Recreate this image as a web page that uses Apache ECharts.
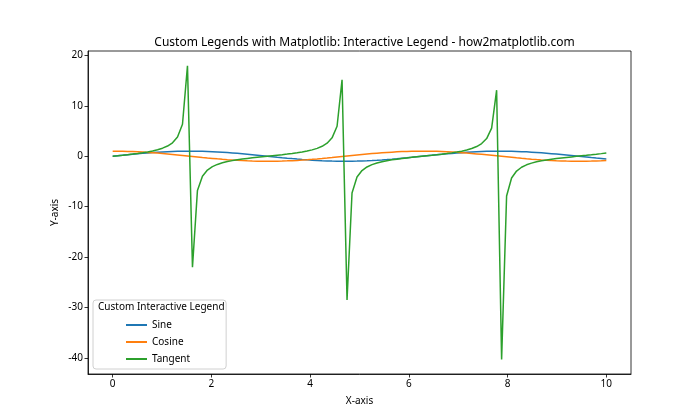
<!DOCTYPE html>
<html>
<head>
<meta charset="utf-8">
<script src="https://cdn.jsdelivr.net/npm/echarts@6/dist/echarts.min.js"></script>
<style>html,body{margin:0;padding:0;background:#fff;}#c{width:700px;height:420px;}</style>
</head>
<body>
<div id="c"></div>
<script>
const xValues = [0,0.1010,0.2020,0.3030,0.4040,0.5051,0.6061,0.7071,0.8081,0.9091,1.0101,1.1111,1.2121,1.3131,1.4141,1.5152,1.6162,1.7172,1.8182,1.9192,2.0202,2.1212,2.2222,2.3232,2.4242,2.5253,2.6263,2.7273,2.8283,2.9293,3.0303,3.1313,3.2323,3.3333,3.4343,3.5354,3.6364,3.7374,3.8384,3.9394,4.0404,4.1414,4.2424,4.3434,4.4444,4.5455,4.6465,4.7475,4.8485,4.9495,5.0505,5.1515,5.2525,5.3535,5.4545,5.5556,5.6566,5.7576,5.8586,5.9596,6.0606,6.1616,6.2626,6.3636,6.4646,6.5657,6.6667,6.7677,6.8687,6.9697,7.0707,7.1717,7.2727,7.3737,7.4747,7.5758,7.6768,7.7778,7.8788,7.9798,8.0808,8.1818,8.2828,8.3838,8.4848,8.5859,8.6869,8.7879,8.8889,8.9899,9.0909,9.1919,9.2929,9.3939,9.4949,9.5960,9.6970,9.7980,9.8990,10.0];
const sineValues = [0,0.1008,0.2007,0.2984,0.3931,0.4839,0.5696,0.6496,0.7230,0.7889,0.8469,0.8962,0.9364,0.9670,0.9878,0.9985,0.9990,0.9893,0.9696,0.9399,0.9007,0.8523,0.7952,0.7300,0.6574,0.5781,0.4928,0.4026,0.3082,0.2107,0.1111,0.0103,-0.0906,-0.1906,-0.2886,-0.3837,-0.4748,-0.5612,-0.6418,-0.7158,-0.7826,-0.8414,-0.8916,-0.9327,-0.9643,-0.9861,-0.9978,-0.9994,-0.9908,-0.9720,-0.9434,-0.9051,-0.8576,-0.8014,-0.7370,-0.6651,-0.5864,-0.5017,-0.4120,-0.3180,-0.2207,-0.1213,-0.0206,0.0804,0.1805,0.2787,0.3742,0.4658,0.5526,0.6339,0.7086,0.7762,0.8358,0.8869,0.9290,0.9616,0.9843,0.9971,0.9997,0.9921,0.9744,0.9467,0.9094,0.8629,0.8075,0.7439,0.6727,0.5947,0.5106,0.4213,0.3277,0.2308,0.1315,0.0308,-0.0701,-0.1704,-0.2688,-0.3646,-0.4566,-0.5440];
const cosineValues = [1,0.9949,0.9797,0.9544,0.9195,0.8752,0.8219,0.7603,0.6909,0.6145,0.5318,0.4437,0.3510,0.2548,0.1560,0.0556,-0.0453,-0.1459,-0.2449,-0.3414,-0.4344,-0.5230,-0.6063,-0.6834,-0.7536,-0.8160,-0.8701,-0.9154,-0.9513,-0.9776,-0.9938,-0.9999,-0.9959,-0.9817,-0.9575,-0.9235,-0.8801,-0.8277,-0.7669,-0.6983,-0.6225,-0.5405,-0.4529,-0.3607,-0.2648,-0.1662,-0.0659,0.0351,0.1357,0.2349,0.3317,0.4252,0.5143,0.5981,0.6759,0.7468,0.8100,0.8650,0.9112,0.9481,0.9753,0.9926,0.9998,0.9968,0.9836,0.9604,0.9274,0.8849,0.8334,0.7735,0.7056,0.6306,0.5491,0.4620,0.3702,0.2747,0.1763,0.0761,-0.0248,-0.1255,-0.2249,-0.3220,-0.4158,-0.5054,-0.5899,-0.6683,-0.7399,-0.8039,-0.8598,-0.9069,-0.9448,-0.9730,-0.9913,-0.9995,-0.9975,-0.9854,-0.9632,-0.9312,-0.8897,-0.8391];
const tangentValues = [0,0.1014,0.2048,0.3127,0.4276,0.5529,0.6931,0.8544,1.0464,1.2840,1.5926,2.0200,2.6674,3.7948,6.3309,17.952,-22.029,-6.7831,-3.9595,-2.7532,-2.0733,-1.6295,-1.3116,-1.0682,-0.8724,-0.7084,-0.5664,-0.4398,-0.3240,-0.2155,-0.1118,-0.0103,0.0910,0.1941,0.3014,0.4155,0.5395,0.6780,0.8368,1.0251,1.2571,1.5568,1.9688,2.5862,3.6424,5.9346,15.146,-28.494,-7.3026,-4.1382,-2.8440,-2.1289,-1.6677,-1.3399,-1.0905,-0.8906,-0.7239,-0.5800,-0.4521,-0.3354,-0.2263,-0.1222,-0.0206,0.0806,0.1835,0.2902,0.4035,0.5263,0.6631,0.8195,1.0043,1.2309,1.5222,1.9197,2.5093,3.5010,5.5837,13.098,-40.302,-7.906,-4.3327,-2.9402,-2.1871,-1.7073,-1.3690,-1.1132,-0.9093,-0.7397,-0.5938,-0.4645,-0.3469,-0.2372,-0.1326,-0.0308,0.0703,0.1729,0.2791,0.3916,0.5133,0.6484];
const xTicks = [0,2,4,6,8,10];
const yTicks = [-40,-30,-20,-10,0,10,20];
const seriesNames = ['Sine','Cosine','Tangent'];
const colors = ['#1f77b4','#ff7f0e','#2ca02c'];

const FONT = 'Noto Sans';
function pairs(ys){ return xValues.map((x,i)=>[x, ys[i]]); }
const allSeries = [sineValues, cosineValues, tangentValues];

const chart = echarts.init(document.getElementById('c'), null, {renderer:'canvas'});
chart.setOption({
  animation:false,
  backgroundColor:'#fff',
  color: colors,
  title:[{
    text:'Custom Legends with Matplotlib: Interactive Legend - how2matplotlib.com',
    left:359.5, top:32, textAlign:'center',
    textStyle:{fontFamily:FONT,fontSize:12,fontWeight:'normal',color:'#000'}
  },{
    text:'Custom Interactive Legend',
    left:93, top:297,
    textStyle:{fontFamily:FONT,fontSize:10,fontWeight:'normal',color:'#000'}
  }],
  grid:{left:88, right:69, top:51, bottom:46, show:true, borderColor:'#000', borderWidth:0.8, backgroundColor:'transparent'},
  legend:{
    data: seriesNames,
    orient:'vertical', left:93, top:300,
    padding:[19,36,4,33],
    itemGap:5, itemWidth:21, itemHeight:2, icon:'rect',
    backgroundColor:'rgba(255,255,255,0.8)', borderColor:'#d0d0d0', borderWidth:1, borderRadius:3,
    textStyle:{fontFamily:FONT,fontSize:10,color:'#000',lineHeight:12},
    selectedMode:true
  },
  xAxis:{
    type:'value', min:-0.5, max:10.5,
    name:'X-axis', nameLocation:'middle', nameGap:22,
    nameTextStyle:{fontFamily:FONT,fontSize:10,color:'#000'},
    axisLine:{show:true,onZero:false,lineStyle:{color:'#000',width:0.8}},
    axisTick:{show:true,length:3.5,customValues:xTicks,lineStyle:{color:'#000',width:0.8}},
    axisLabel:{customValues:xTicks,fontFamily:FONT,fontSize:10,color:'#000',margin:5},
    splitLine:{show:false}
  },
  yAxis:{
    type:'value', min:-43.2, max:20.87,
    name:'Y-axis', nameLocation:'middle', nameGap:28, nameMoveOverlap:false,
    nameTextStyle:{fontFamily:FONT,fontSize:10,color:'#000'},
    axisLine:{show:true,onZero:false,lineStyle:{color:'#000',width:0.8}},
    axisTick:{show:true,length:3.5,customValues:yTicks,lineStyle:{color:'#000',width:0.8}},
    axisLabel:{customValues:yTicks,fontFamily:FONT,fontSize:10,color:'#000',margin:5},
    splitLine:{show:false}
  },
  series: seriesNames.map((n,i)=>({
    name:n, type:'line', data:pairs(allSeries[i]),
    symbol:'none', showSymbol:false,
    lineStyle:{width:1.5,color:colors[i]},
    itemStyle:{color:colors[i]}
  }))
});
</script>
</body>
</html>
